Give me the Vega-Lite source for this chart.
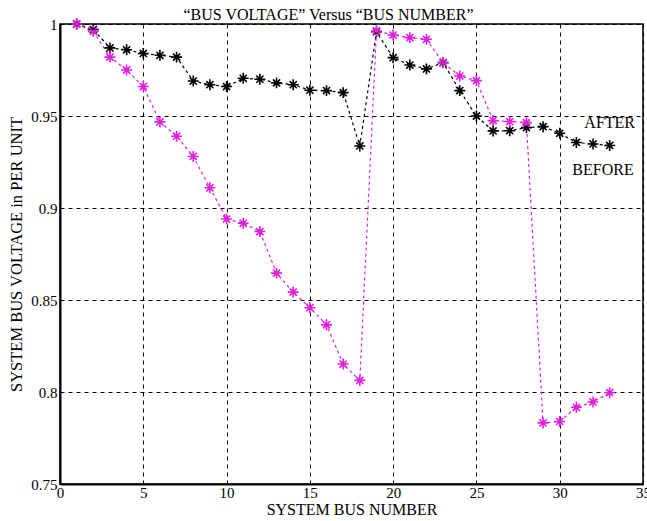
{
  "$schema": "https://vega.github.io/schema/vega-lite/v6.json",
  "width": 583,
  "height": 460,
  "autosize": {"type": "none"},
  "padding": {"left": 60, "top": 24, "right": 4, "bottom": 37},
  "background": "white",
  "config": {
    "font": "Liberation Serif",
    "view": {"stroke": "black", "strokeWidth": 1.5},
    "axis": {
      "grid": true,
      "gridColor": "black",
      "gridOpacity": 1,
      "gridDash": [4, 4],
      "gridWidth": 1,
      "domainColor": "black",
      "domainWidth": 2,
      "ticks": false,
      "labelFont": "Liberation Serif",
      "labelFontSize": 15,
      "labelColor": "black",
      "titleFont": "Liberation Serif",
      "titleFontSize": 16,
      "titleFontWeight": "normal",
      "titleColor": "black"
    }
  },
  "title": {
    "text": "“BUS VOLTAGE” Versus “BUS NUMBER”",
    "font": "Liberation Serif",
    "fontSize": 16,
    "fontWeight": "normal",
    "color": "black",
    "anchor": "middle",
    "frame": "group",
    "baseline": "bottom",
    "dx": -23,
    "dy": 27,
    "offset": 3
  },
  "datasets": {
    "volt": [
      {"bus": 1, "v": 1.0, "series": "AFTER"},
      {"bus": 2, "v": 0.997, "series": "AFTER"},
      {"bus": 3, "v": 0.987, "series": "AFTER"},
      {"bus": 4, "v": 0.986, "series": "AFTER"},
      {"bus": 5, "v": 0.984, "series": "AFTER"},
      {"bus": 6, "v": 0.983, "series": "AFTER"},
      {"bus": 7, "v": 0.982, "series": "AFTER"},
      {"bus": 8, "v": 0.969, "series": "AFTER"},
      {"bus": 9, "v": 0.967, "series": "AFTER"},
      {"bus": 10, "v": 0.966, "series": "AFTER"},
      {"bus": 11, "v": 0.9705, "series": "AFTER"},
      {"bus": 12, "v": 0.970, "series": "AFTER"},
      {"bus": 13, "v": 0.968, "series": "AFTER"},
      {"bus": 14, "v": 0.967, "series": "AFTER"},
      {"bus": 15, "v": 0.964, "series": "AFTER"},
      {"bus": 16, "v": 0.9638, "series": "AFTER"},
      {"bus": 17, "v": 0.9627, "series": "AFTER"},
      {"bus": 18, "v": 0.9337, "series": "AFTER"},
      {"bus": 19, "v": 0.9958, "series": "AFTER"},
      {"bus": 20, "v": 0.9817, "series": "AFTER"},
      {"bus": 21, "v": 0.9777, "series": "AFTER"},
      {"bus": 22, "v": 0.9756, "series": "AFTER"},
      {"bus": 23, "v": 0.979, "series": "AFTER"},
      {"bus": 24, "v": 0.9638, "series": "AFTER"},
      {"bus": 25, "v": 0.950, "series": "AFTER"},
      {"bus": 26, "v": 0.9419, "series": "AFTER"},
      {"bus": 27, "v": 0.942, "series": "AFTER"},
      {"bus": 28, "v": 0.9437, "series": "AFTER"},
      {"bus": 29, "v": 0.9442, "series": "AFTER"},
      {"bus": 30, "v": 0.9406, "series": "AFTER"},
      {"bus": 31, "v": 0.9356, "series": "AFTER"},
      {"bus": 32, "v": 0.9348, "series": "AFTER"},
      {"bus": 33, "v": 0.934, "series": "AFTER"},
      {"bus": 1, "v": 1.0, "series": "BEFORE"},
      {"bus": 2, "v": 0.996, "series": "BEFORE"},
      {"bus": 3, "v": 0.982, "series": "BEFORE"},
      {"bus": 4, "v": 0.975, "series": "BEFORE"},
      {"bus": 5, "v": 0.966, "series": "BEFORE"},
      {"bus": 6, "v": 0.9468, "series": "BEFORE"},
      {"bus": 7, "v": 0.939, "series": "BEFORE"},
      {"bus": 8, "v": 0.928, "series": "BEFORE"},
      {"bus": 9, "v": 0.911, "series": "BEFORE"},
      {"bus": 10, "v": 0.894, "series": "BEFORE"},
      {"bus": 11, "v": 0.8917, "series": "BEFORE"},
      {"bus": 12, "v": 0.8872, "series": "BEFORE"},
      {"bus": 13, "v": 0.8646, "series": "BEFORE"},
      {"bus": 14, "v": 0.8543, "series": "BEFORE"},
      {"bus": 15, "v": 0.8458, "series": "BEFORE"},
      {"bus": 16, "v": 0.8365, "series": "BEFORE"},
      {"bus": 17, "v": 0.8152, "series": "BEFORE"},
      {"bus": 18, "v": 0.8063, "series": "BEFORE"},
      {"bus": 19, "v": 0.9962, "series": "BEFORE"},
      {"bus": 20, "v": 0.994, "series": "BEFORE"},
      {"bus": 21, "v": 0.9926, "series": "BEFORE"},
      {"bus": 22, "v": 0.9917, "series": "BEFORE"},
      {"bus": 23, "v": 0.979, "series": "BEFORE"},
      {"bus": 24, "v": 0.9717, "series": "BEFORE"},
      {"bus": 25, "v": 0.9692, "series": "BEFORE"},
      {"bus": 26, "v": 0.9475, "series": "BEFORE"},
      {"bus": 27, "v": 0.947, "series": "BEFORE"},
      {"bus": 28, "v": 0.9464, "series": "BEFORE"},
      {"bus": 29, "v": 0.7832, "series": "BEFORE"},
      {"bus": 30, "v": 0.784, "series": "BEFORE"},
      {"bus": 31, "v": 0.7917, "series": "BEFORE"},
      {"bus": 32, "v": 0.7946, "series": "BEFORE"},
      {"bus": 33, "v": 0.7996, "series": "BEFORE"}
    ],
    "labels": [
      {"bus": 33.0, "v": 0.9462, "label": "AFTER"},
      {"bus": 32.6, "v": 0.9207, "label": "BEFORE"}
    ]
  },
  "encoding": {
    "x": {
      "field": "bus",
      "type": "quantitative",
      "scale": {"domain": [0, 35], "nice": false, "zero": false},
      "axis": {"values": [0, 5, 10, 15, 20, 25, 30, 35], "title": "SYSTEM BUS NUMBER", "labelPadding": 1, "titlePadding": 1, "labelFlush": false}
    },
    "y": {
      "field": "v",
      "type": "quantitative",
      "scale": {"domain": [0.75, 1], "nice": false, "zero": false},
      "axis": {"values": [0.75, 0.8, 0.85, 0.9, 0.95, 1], "format": ".2~f", "title": "SYSTEM BUS VOLTAGE in PER UNIT", "titleFontSize": 16.5, "labelPadding": 3, "titlePadding": 6, "labelFlush": false}
    }
  },
  "layer": [
    {
      "data": {"name": "volt"},
      "mark": {"type": "line", "strokeDash": [3, 3], "strokeWidth": 1.2},
      "encoding": {
        "color": {"field": "series", "type": "nominal", "scale": {"domain": ["AFTER", "BEFORE"], "range": ["#000000", "#e21ee2"]}, "legend": null},
        "detail": {"field": "series"}
      }
    },
    {
      "data": {"name": "volt"},
      "mark": {"type": "point", "shape": "M-1,0L1,0M0,-1L0,1M-0.65,-0.65L0.65,0.65M-0.65,0.65L0.65,-0.65", "filled": false, "strokeWidth": 1.6, "size": 120, "opacity": 1},
      "encoding": {
        "color": {"field": "series", "type": "nominal", "scale": {"domain": ["AFTER", "BEFORE"], "range": ["#000000", "#e21ee2"]}, "legend": null}
      }
    },
    {
      "data": {"name": "volt"},
      "mark": {"type": "point", "shape": "circle", "filled": true, "size": 14, "opacity": 1},
      "encoding": {
        "color": {"field": "series", "type": "nominal", "scale": {"domain": ["AFTER", "BEFORE"], "range": ["#000000", "#e21ee2"]}, "legend": null}
      }
    },
    {
      "data": {"name": "labels"},
      "mark": {"type": "text", "font": "Liberation Serif", "fontSize": 16, "color": "black", "align": "center", "baseline": "middle"},
      "encoding": {"text": {"field": "label"}}
    }
  ]
}
